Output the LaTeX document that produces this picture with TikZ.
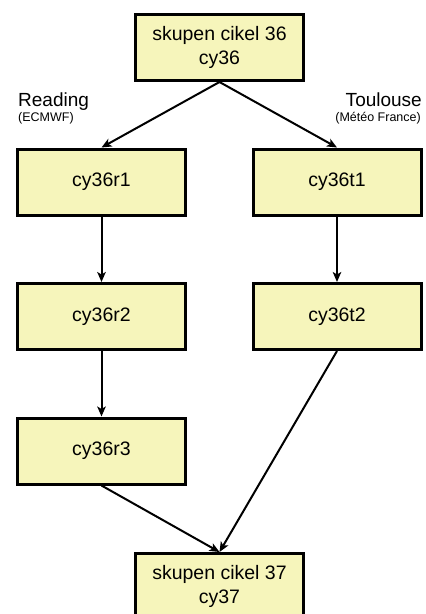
\documentclass[tikz,border=0pt]{standalone}
\usepackage{fontspec}
\setmainfont{Liberation Sans}
\usetikzlibrary{arrows.meta}
\definecolor{boxfill}{RGB}{246,245,187}
\tikzset{
  cyclebox/.style={draw=black, line width=3pt, fill=boxfill,
    minimum width=168pt, minimum height=66pt, inner sep=0pt,
    align=center, font=\fontsize{19.5pt}{24pt}\selectfont},
  flow/.style={line width=2pt, -{Stealth[length=10pt,width=8.5pt,inset=2.5pt]}},
  sitelabel/.style={inner sep=0pt, font=\fontsize{19pt}{21pt}\selectfont},
  sitenote/.style={inner sep=0pt, font=\fontsize{12.5pt}{14pt}\selectfont}
}
\begin{document}
\begin{tikzpicture}[x=1pt,y=-1pt]
  \useasboundingbox (0,0) rectangle (426,614);
  \clip (0,0) rectangle (426,614);

  % cycle boxes
  \node[cyclebox] (c36) at (219.5,47.5) {skupen cikel 36\\cy36};
  \node[cyclebox] (r1) at (101.5,182) {cy36r1};
  \node[cyclebox] (t1) at (337,182) {cy36t1};
  \node[cyclebox] (r2) at (101.5,316.5) {cy36r2};
  \node[cyclebox] (t2) at (337,316.5) {cy36t2};
  \node[cyclebox] (r3) at (101.5,451) {cy36r3};
  \node[cyclebox] (c37) at (219.5,586.5) {skupen cikel 37\\cy37};

  % site labels
  \node[sitelabel, anchor=base west] (reading) at (18,106) {Reading};
  \node[sitenote, anchor=base west] (ecmwf) at (18,121) {(ECMWF)};
  \node[sitelabel, anchor=base east] (toulouse) at (422,106) {Toulouse};
  \node[sitenote, anchor=base east] (meteo) at (421,121) {(Météo France)};

  % branches
  \draw[flow] (c36.south) -- (r1.north);
  \draw[flow] (c36.south) -- (t1.north);
  \draw[flow] (r1) -- (r2);
  \draw[flow] (r2) -- (r3);
  \draw[flow] (t1) -- (t2);
  \draw[flow] (r3.south) -- (c37.north);
  \draw[flow] (t2.south) -- (c37.north);
\end{tikzpicture}
\end{document}
